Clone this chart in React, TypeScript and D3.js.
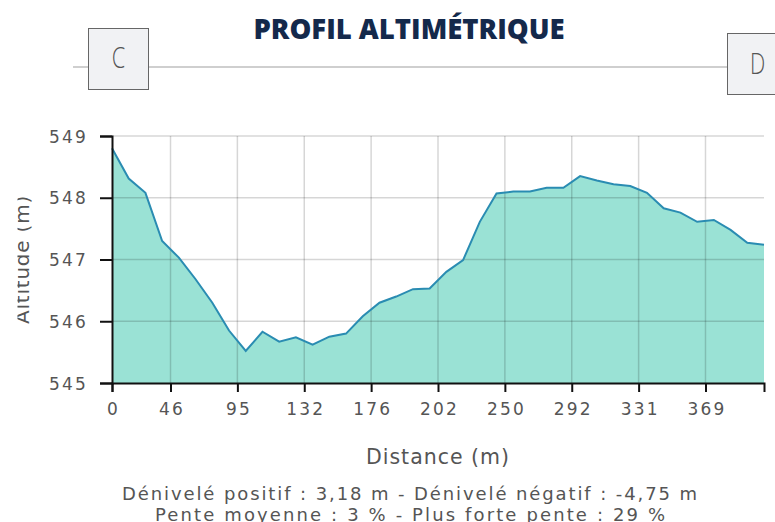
import React, { useEffect, useRef } from "react";
import * as d3 from "d3";

// altitude (m) of each sampled point along the profile, in order
const altitudes = [
  548.8, 548.31, 548.08, 547.3, 547.03, 546.68, 546.3, 545.85, 545.52, 545.83,
  545.67, 545.74, 545.62, 545.75, 545.8, 546.08, 546.3, 546.4, 546.52, 546.53,
  546.8, 546.99, 547.61, 548.07, 548.1, 548.1, 548.16, 548.16, 548.35, 548.28,
  548.22, 548.19, 548.08, 547.83, 547.76, 547.61, 547.64, 547.48, 547.27, 547.24,
];

// x axis ticks: sample index where the tick sits, and the distance shown
const xTickIdx = [0, 3.5, 7.5, 11.5, 15.5, 19.5, 23.5, 27.5, 31.5, 35.5];
const xTickLabels = ["0", "46", "95", "132", "176", "202", "250", "292", "331", "369"];
const yTicks = [545, 546, 547, 548, 549];

const statsLine1 = "Dénivelé positif : 3,18 m - Dénivelé négatif : -4,75 m";
const statsLine2 = "Pente moyenne : 3 % - Plus forte pente : 29 %";

const W = 775;
const H = 522;
const MARGIN = { top: 136, right: 11, bottom: 139, left: 112 };
const FONT = "'DejaVu Sans', Verdana, sans-serif";

const App = () => {
  const xAxisRef = useRef<SVGGElement>(null);
  const yAxisRef = useRef<SVGGElement>(null);

  const boundsWidth = W - MARGIN.left - MARGIN.right;
  const boundsHeight = H - MARGIN.top - MARGIN.bottom;

  const xScale = d3
    .scaleLinear()
    .domain([0, altitudes.length - 1])
    .range([0, boundsWidth]);
  const yScale = d3.scaleLinear().domain([545, 549]).range([boundsHeight, 0]);

  const area = d3
    .area<number>()
    .x((_, i) => xScale(i))
    .y0(boundsHeight)
    .y1((d) => yScale(d));
  const line = d3
    .line<number>()
    .x((_, i) => xScale(i))
    .y((d) => yScale(d));

  useEffect(() => {
    const gx = d3.select(xAxisRef.current);
    gx.selectAll("*").remove();
    gx.call(
      d3
        .axisBottom(xScale)
        .tickValues(xTickIdx)
        .tickFormat((_, i) => xTickLabels[i])
        .tickSizeOuter(0)
        .tickSize(9)
        .tickPadding(11)
    );
    const gy = d3.select(yAxisRef.current);
    gy.selectAll("*").remove();
    gy.call(
      d3.axisLeft(yScale).tickValues(yTicks).tickFormat(d3.format("d")).tickSizeOuter(0).tickSize(12).tickPadding(12)
    );
    [gx, gy].forEach((g) => {
      g.select(".domain").attr("stroke", "#111").attr("stroke-width", 2);
      g.selectAll(".tick line").attr("stroke", "#111").attr("stroke-width", 2);
      g.selectAll(".tick text")
        .attr("fill", "#555")
        .style("font-family", FONT)
        .style("font-size", "17px")
        .style("letter-spacing", "2.2px");
    });
    gx.selectAll(".tick text").attr("dx", "1.1px");
    gy.selectAll(".tick text").attr("dy", "0.36em");
  }, []);

  return (
    <svg
      width={W}
      height={H}
      style={{ position: "absolute", left: 0, top: 0, background: "#fff" }}
    >
      <defs>
        <clipPath id="ylab-clip">
          <rect x={17.5} y={0} width={100} height={H} />
        </clipPath>
      </defs>

      {/* header */}
      <text
        x={409}
        y={39}
        textAnchor="middle"
        fontFamily="'Open Sans', sans-serif"
        fontWeight={800}
        fontSize={27.5}
        fill="#14294b"
      >
        PROFIL ALTIMÉTRIQUE
      </text>
      <line x1={73} x2={727} y1={67} y2={67} stroke="#cfcfcf" strokeWidth={2} />
      <rect x={88.5} y={28.5} width={60} height={61} fill="#f1f2f4" stroke="#666" />
      <text
        transform="translate(118.5,68.3) scale(0.72,1)"
        textAnchor="middle"
        fontFamily="'Open Sans', sans-serif"
        fontWeight={300}
        fontSize={30}
        fill="#555"
      >
        C
      </text>
      <rect x={727.5} y={33.5} width={60} height={61} fill="#f1f2f4" stroke="#666" />
      <text
        transform="translate(757.5,74) scale(0.72,1)"
        textAnchor="middle"
        fontFamily="'Open Sans', sans-serif"
        fontWeight={300}
        fontSize={30}
        fill="#555"
      >
        D
      </text>

      <g transform={`translate(${MARGIN.left},${MARGIN.top})`}>
        <path d={area(altitudes) ?? ""} fill="#9ae2d5" />
        {/* grid drawn over the area */}
        {yTicks.slice(1).map((t) => (
          <line key={"h" + t} x1={0} x2={boundsWidth} y1={yScale(t)} y2={yScale(t)} stroke="#000" strokeOpacity={0.16} strokeWidth={1.5} />
        ))}
        {xTickIdx.slice(1).map((t) => (
          <line key={"v" + t} x1={xScale(t)} x2={xScale(t)} y1={0} y2={boundsHeight} stroke="#000" strokeOpacity={0.16} strokeWidth={1.5} />
        ))}
        <path d={line(altitudes) ?? ""} fill="none" stroke="#2a8cb2" strokeWidth={2} />
        <g ref={xAxisRef} transform={`translate(0,${boundsHeight})`} />
        <g ref={yAxisRef} />
      </g>

      <g clipPath="url(#ylab-clip)">
        <text
          transform={`translate(28.5,${MARGIN.top + boundsHeight / 2}) rotate(-90)`}
          textAnchor="middle"
          fontFamily={FONT}
          fontSize={20}
          letterSpacing={0.8}
          fill="#555"
        >
          Altitude (m)
        </text>
      </g>
      <text
        x={MARGIN.left + boundsWidth / 2}
        y={463.5}
        textAnchor="middle"
        fontFamily={FONT}
        fontSize={20.5}
        letterSpacing={1}
        fill="#555"
      >
        Distance (m)
      </text>
      <text x={122} y={500} textLength={575} lengthAdjust="spacing" fontFamily={FONT} fontSize={18} fill="#555">
        {statsLine1}
      </text>
      <text x={155} y={520.5} textLength={510} lengthAdjust="spacing" fontFamily={FONT} fontSize={18} fill="#555">
        {statsLine2}
      </text>
    </svg>
  );
};

export default App;
